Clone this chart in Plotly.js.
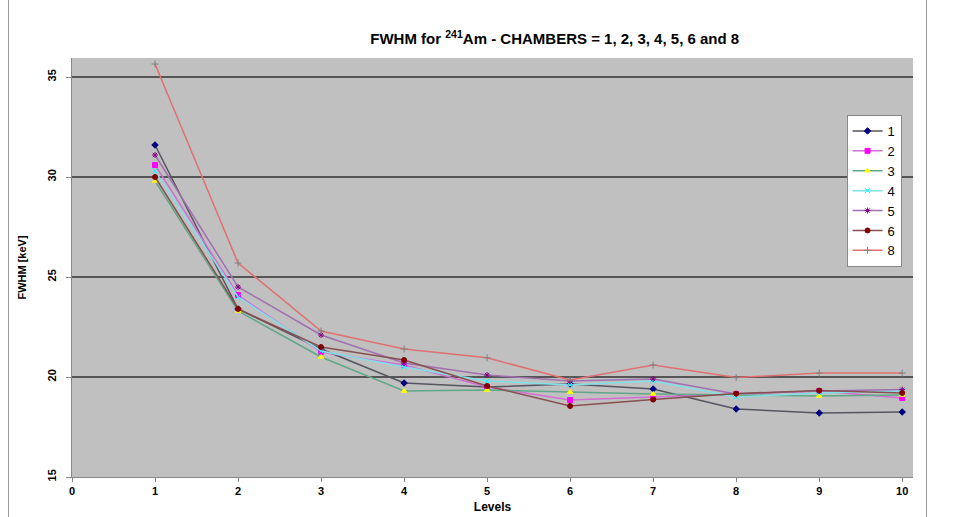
<!DOCTYPE html>
<html>
<head>
<meta charset="utf-8">
<script src="https://cdn.plot.ly/plotly-3.0.1.min.js"></script>
<style>
html,body{margin:0;padding:0;background:#fff;}
#frame{position:absolute;left:8px;top:0;width:917px;height:517px;border-left:1px solid #999;border-right:1px solid #999;}
#chart{position:absolute;left:0;top:0;width:961px;height:517px;}
</style>
</head>
<body>
<div id="frame"></div>
<div id="chart"></div>
<script>
const levels = [1,2,3,4,5,6,7,8,9,10];
const seriesNames = ["1","2","3","4","5","6","8"];
const ch1 = [31.6,23.4,21.4,19.7,19.5,19.65,19.4,18.4,18.2,18.25];
const ch2 = [30.6,24.1,21.25,20.6,19.5,18.85,19.0,19.15,19.3,18.95];
const ch3 = [29.8,23.3,21.0,19.3,19.35,19.25,19.15,19.1,19.05,19.1];
const ch4 = [30.3,24.0,21.3,20.5,19.8,19.6,19.8,19.0,19.2,19.3];
const ch5 = [31.1,24.5,22.1,20.7,20.1,19.8,19.9,19.15,19.3,19.37];
const ch6 = [30.0,23.4,21.5,20.85,19.55,18.55,18.87,19.17,19.32,19.2];
const ch8 = [35.65,25.7,22.3,21.4,20.96,19.85,20.6,19.97,20.2,20.2];
const yTicks = [15,20,25,30,35];
const xTicks = [0,1,2,3,4,5,6,7,8,9,10];

const allSeries = [ch1,ch2,ch3,ch4,ch5,ch6,ch8];
const lineColors = ["#555560","#d070d0","#60a888","#80e0e8","#a070b0","#885050","#e07070"];
const markerColors = ["#000080","#ff00ff","#ffff00","#00ffff","#800080","#800000","#808080"];
const markerSymbols = ["diamond","square","triangle-up","x-thin-open","asterisk-open","circle","cross-thin-open"];

const traces = allSeries.map((ys,i)=>({
  x: levels, y: ys, name: seriesNames[i], type:"scatter", mode:"lines+markers",
  line:{color:lineColors[i], width:1.5},
  marker:{color:markerColors[i], symbol:markerSymbols[i], size:5, line:{color:markerColors[i], width:1}}
}));

const layout = {
  width:961, height:517,
  margin:{l:72, r:48, t:58, b:40},
  paper_bgcolor:"rgba(0,0,0,0)",
  plot_bgcolor:"#c0c0c0",
  font:{family:"Liberation Sans, Arial, sans-serif", color:"#000"},
  title:{text:"<b>FWHM for <sup>241</sup>Am - CHAMBERS = 1, 2, 3, 4, 5, 6 and 8</b>", font:{size:15}, x:0.574, xref:"paper", xanchor:"center", y:0.925, yref:"container", yanchor:"middle"},
  xaxis:{range:[0,10.13], tickvals:xTicks, ticktext:xTicks.map(v=>"<b>"+v+"</b>"), ticks:"outside", ticklen:4, tickcolor:"#888",
    showgrid:false, zeroline:false, showline:true, linecolor:"#888", linewidth:1, mirror:false,
    tickfont:{size:11}, title:{text:"<b>Levels</b>", font:{size:12}, standoff:6}},
  yaxis:{range:[15,35.95], tickvals:yTicks, ticktext:yTicks.map(v=>"<b>"+v+"</b>"), tickangle:-90, ticks:"outside", ticklen:5, tickcolor:"#888",
    ticklabelstandoff:6,
    showgrid:true, gridcolor:"#555", gridwidth:1.2, zeroline:false, showline:true, linecolor:"#888", linewidth:1,
    tickfont:{size:11}, title:{text:"<b>FWHM [keV]</b>", font:{size:11}, standoff:16}},
  legend:{x:0.921, y:0.864, xanchor:"left", yanchor:"top", bgcolor:"#fff", bordercolor:"#888", borderwidth:1,
    font:{size:13}, tracegroupgap:0, itemwidth:30},
  showlegend:true
};
Plotly.newPlot("chart", traces, layout, {displayModeBar:false, staticPlot:true});
</script>
</body>
</html>
